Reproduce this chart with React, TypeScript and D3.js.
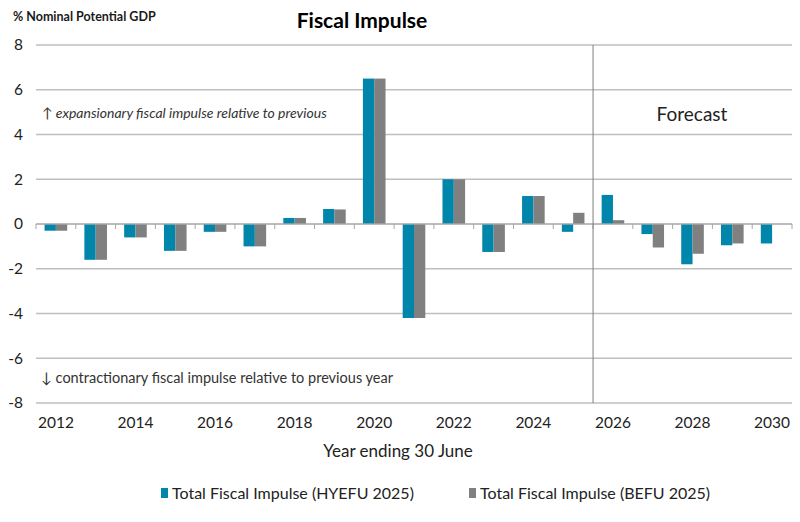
import * as React from 'react'
import { scaleBand, scaleLinear, range as d3range } from 'd3'

const years = d3range(2012, 2031)
const yearLabels = years.filter((y) => y % 2 === 0)
const yTicks = [-8, -6, -4, -2, 0, 2, 4, 6, 8]
const seriesNames = ['Total Fiscal Impulse (HYEFU 2025)', 'Total Fiscal Impulse (BEFU 2025)']
const hyefu = [-0.3, -1.6, -0.6, -1.2, -0.35, -1.0, 0.27, 0.67, 6.5, -4.2, 2.0, -1.25, 1.25, -0.35, 1.3, -0.45, -1.8, -0.95, -0.87]
const befu: (number | null)[] = [-0.3, -1.6, -0.6, -1.2, -0.35, -1.0, 0.27, 0.65, 6.5, -4.2, 2.0, -1.25, 1.25, 0.5, 0.17, -1.05, -1.33, -0.87, null]
const colors = ['#0085ab', '#808080']
const forecastFrom = 2026

const width = 800
const height = 522
const font = 'Lato, "Open Sans", sans-serif'

function App() {
  const x = scaleBand<number>().domain(years).range([36, 792]).padding(0)
  const inner = scaleBand<string>().domain(seriesNames).range([0, x.bandwidth()]).paddingInner(0).paddingOuter(0.76)
  const y = scaleLinear().domain([-8, 8]).range([403, 45])
  const series = [hyefu, befu]
  const forecastX = x(forecastFrom) ?? 0
  const tickXs = years.map((yr) => x(yr) ?? 0).concat([x.range()[1]])

  return (
    <svg width={width} height={height} style={{ position: 'absolute', left: 0, top: 0, background: '#fff' }} fontFamily={font}>
      <text x={13} y={21} fontSize={12.5} fontWeight={700} fill="#1a1a1a">% Nominal Potential GDP</text>
      <text x={362} y={28} fontSize={21} fontWeight={700} textAnchor="middle" fill="#000">Fiscal Impulse</text>

      {yTicks.map((t) => (
        <g key={t}>
          {t !== 0 && <line x1={36} x2={792} y1={y(t)} y2={y(t)} stroke="#bfbfbf" strokeWidth={1.3} />}
          <text x={23} y={y(t)} dy="0.35em" fontSize={15.5} textAnchor="end" fill="#222">{t}</text>
        </g>
      ))}

      {series.map((vals, si) =>
        vals.map((v, i) =>
          v == null ? null : (
            <rect
              key={`${si}-${i}`}
              x={(x(years[i]) ?? 0) + (inner(seriesNames[si]) ?? 0)}
              y={y(Math.max(0, v))}
              width={inner.bandwidth()}
              height={Math.abs(y(v) - y(0))}
              fill={colors[si]}
            />
          )
        )
      )}

      <line x1={36} x2={792} y1={y(0)} y2={y(0)} stroke="#a6a6a6" strokeWidth={1.3} />
      {tickXs.map((tx, i) => (
        <line key={i} x1={tx} x2={tx} y1={y(0)} y2={y(0) + 5} stroke="#a6a6a6" strokeWidth={1} />
      ))}

      <line x1={forecastX} x2={forecastX} y1={y(8)} y2={y(-8)} stroke="#7f7f7f" strokeWidth={1} />
      <text x={692} y={y(4.6)} fontSize={19} textAnchor="middle" fill="#222">Forecast</text>

      <text x={42} y={y(4.75)} fontSize={14} fontStyle="italic" fill="#333">↑ expansionary fiscal impulse relative to previous</text>
      <text x={41} y={y(-7.1)} fontSize={14.5} fill="#333">↓ contractionary fiscal impulse relative to previous year</text>

      {yearLabels.map((yr) => (
        <text key={yr} x={(x(yr) ?? 0) + x.bandwidth() / 2} y={428} fontSize={15.5} textAnchor="middle" fill="#222">{yr}</text>
      ))}
      <text x={398} y={457} fontSize={17} textAnchor="middle" fill="#222">Year ending 30 June</text>

      {seriesNames.map((name, si) => {
        const lx = si === 0 ? 161 : 469
        return (
          <g key={name}>
            <rect x={lx} y={488} width={7} height={10} fill={colors[si]} />
            <text x={lx + 11} y={499} fontSize={16} fill="#222">{name}</text>
          </g>
        )
      })}
    </svg>
  )
}

export default App
